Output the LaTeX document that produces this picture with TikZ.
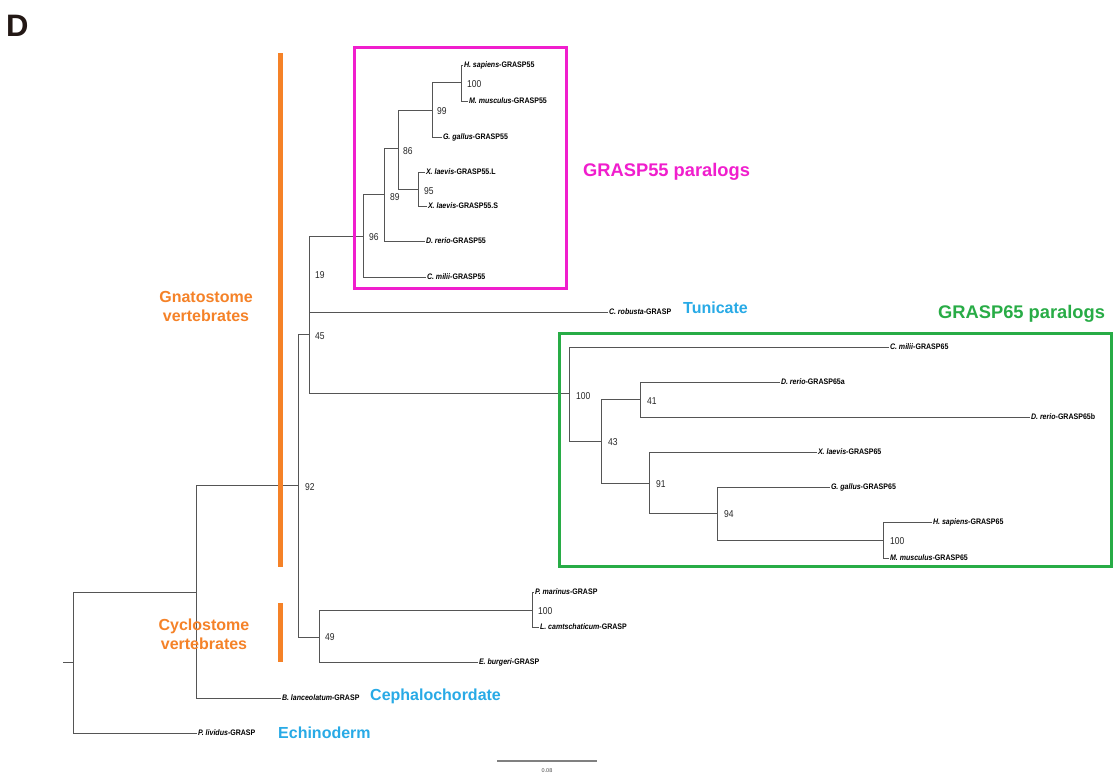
\documentclass[tikz,border=0pt]{standalone}
\usepackage{fontspec}
\setmainfont{Liberation Sans}
\usepackage{graphicx}
\definecolor{treegray}{RGB}{85,85,85}
\definecolor{pinkbox}{RGB}{240,30,205}
\definecolor{greenbox}{RGB}{40,172,70}
\definecolor{orangebar}{RGB}{245,130,40}
\definecolor{bluelab}{RGB}{40,170,230}
\definecolor{darkD}{RGB}{35,24,21}
\newcommand\lf[2]{\scalebox{0.88}[1]{\textit{#1}-#2}}
\newcommand\bt[1]{\scalebox{0.85}[1]{#1}}
\tikzset{
  br/.style={draw=treegray, line width=0.9pt},
  leaf/.style={anchor=west, inner sep=0.8pt, font=\fontsize{8}{9}\selectfont\bfseries, text=black},
  boot/.style={anchor=west, inner sep=0pt, font=\fontsize{10}{12}\selectfont, text=black!85},
  cat/.style={anchor=west, inner sep=0pt, font=\fontsize{16}{19}\selectfont\bfseries},
  grp/.style={align=center, inner sep=0pt, text=orangebar, font=\fontsize{16}{19}\selectfont\bfseries},
  frame/.style={line width=3pt},
  bar/.style={fill=orangebar, draw=none}
}
\begin{document}
\begin{tikzpicture}[x=1pt,y=-1pt]
\useasboundingbox (0,0) rectangle (1114,774);
\fill[white] (0,0) rectangle (1114,774);

% panel letter
\node[anchor=west, inner sep=0pt, text=darkD, font=\fontsize{31}{34}\selectfont\bfseries] (panel) at (6,26) {D};

% internal nodes
\coordinate (A) at (461,82);
\coordinate (B) at (432,110);
\coordinate (C) at (398,148);
\coordinate (D) at (418,189);
\coordinate (E) at (384,194);
\coordinate (F) at (363,236);
\coordinate (G) at (309,274);
\coordinate (H) at (309,334);
\coordinate (I) at (298,485);
\coordinate (J) at (569,393);
\coordinate (K) at (601,441);
\coordinate (L) at (640,399);
\coordinate (M) at (649,483);
\coordinate (N) at (717,513);
\coordinate (O) at (883,540);
\coordinate (P) at (319,637);
\coordinate (Q) at (532,610);
\coordinate (R) at (196,592);
\coordinate (S) at (73,662);
\coordinate (rootstem) at (63,662);

% leaves
\node[leaf] (hs55) at (463,65) {\lf{H. sapiens}{GRASP55}};
\node[leaf] (mm55) at (468,101) {\lf{M. musculus}{GRASP55}};
\node[leaf] (gg55) at (442,137) {\lf{G. gallus}{GRASP55}};
\node[leaf] (xll) at (425,172) {\lf{X. laevis}{GRASP55.L}};
\node[leaf] (xls) at (427,206) {\lf{X. laevis}{GRASP55.S}};
\node[leaf] (dr55) at (425,241) {\lf{D. rerio}{GRASP55}};
\node[leaf] (cm55) at (426,277) {\lf{C. milii}{GRASP55}};
\node[leaf] (cr) at (608,312) {\lf{C. robusta}{GRASP}};
\node[leaf] (cm65) at (889,347) {\lf{C. milii}{GRASP65}};
\node[leaf] (dr65a) at (780,382) {\lf{D. rerio}{GRASP65a}};
\node[leaf] (dr65b) at (1030,417) {\lf{D. rerio}{GRASP65b}};
\node[leaf] (xl65) at (817,452) {\lf{X. laevis}{GRASP65}};
\node[leaf] (gg65) at (830,487) {\lf{G. gallus}{GRASP65}};
\node[leaf] (hs65) at (932,522) {\lf{H. sapiens}{GRASP65}};
\node[leaf] (mm65) at (889,558) {\lf{M. musculus}{GRASP65}};
\node[leaf] (pm) at (534,592) {\lf{P. marinus}{GRASP}};
\node[leaf] (lc) at (539,627) {\lf{L. camtschaticum}{GRASP}};
\node[leaf] (eb) at (478,662) {\lf{E. burgeri}{GRASP}};
\node[leaf] (bl) at (281,698) {\lf{B. lanceolatum}{GRASP}};
\node[leaf] (pl) at (197,733) {\lf{P. lividus}{GRASP}};

% branches
\draw[br] (A) |- (hs55.west);
\draw[br] (A) |- (mm55.west);
\draw[br] (B) |- (A);
\draw[br] (B) |- (gg55.west);
\draw[br] (C) |- (B);
\draw[br] (C) |- (D);
\draw[br] (D) |- (xll.west);
\draw[br] (D) |- (xls.west);
\draw[br] (E) |- (C);
\draw[br] (E) |- (dr55.west);
\draw[br] (F) |- (E);
\draw[br] (F) |- (cm55.west);
\draw[br] (G) |- (F);
\draw[br] (G) |- (cr.west);
\draw[br] (H) |- (G);
\draw[br] (H) |- (J);
\draw[br] (J) |- (cm65.west);
\draw[br] (J) |- (K);
\draw[br] (K) |- (L);
\draw[br] (K) |- (M);
\draw[br] (L) |- (dr65a.west);
\draw[br] (L) |- (dr65b.west);
\draw[br] (M) |- (xl65.west);
\draw[br] (M) |- (N);
\draw[br] (N) |- (gg65.west);
\draw[br] (N) |- (O);
\draw[br] (O) |- (hs65.west);
\draw[br] (O) |- (mm65.west);
\draw[br] (I) |- (H);
\draw[br] (I) |- (P);
\draw[br] (P) |- (Q);
\draw[br] (P) |- (eb.west);
\draw[br] (Q) |- (pm.west);
\draw[br] (Q) |- (lc.west);
\draw[br] (R) |- (I);
\draw[br] (R) |- (bl.west);
\draw[br] (S) |- (R);
\draw[br] (S) |- (pl.west);
\draw[br] (rootstem) -- (S);

% bootstrap values
\node[boot] (bA) at (467,84) {\bt{100}};
\node[boot] (bB) at (437,111) {\bt{99}};
\node[boot] (bC) at (403,151) {\bt{86}};
\node[boot] (bD) at (424,191) {\bt{95}};
\node[boot] (bE) at (390,197) {\bt{89}};
\node[boot] (bF) at (369,237) {\bt{96}};
\node[boot] (bG) at (315,275) {\bt{19}};
\node[boot] (bH) at (315,336) {\bt{45}};
\node[boot] (bI) at (305,487) {\bt{92}};
\node[boot] (bP) at (325,637) {\bt{49}};
\node[boot] (bQ) at (538,611) {\bt{100}};
\node[boot] (bJ) at (576,396) {\bt{100}};
\node[boot] (bL) at (647,401) {\bt{41}};
\node[boot] (bK) at (608,442) {\bt{43}};
\node[boot] (bM) at (656,484) {\bt{91}};
\node[boot] (bN) at (724,514) {\bt{94}};
\node[boot] (bO) at (890,541) {\bt{100}};

% boxes and bars
\draw[frame, draw=pinkbox] (354,47) rectangle (566,288);
\draw[frame, draw=greenbox] (559,333) rectangle (1111,566);
\fill[bar] (278,53) rectangle (283,567);
\fill[bar] (278,603) rectangle (283,662);

% group labels
\node[cat, text=pinkbox, font=\fontsize{18.3}{21}\selectfont\bfseries] (g55) at (583,172) {GRASP55 paralogs};
\node[cat, text=greenbox, font=\fontsize{18.3}{21}\selectfont\bfseries] (g65) at (938,314) {GRASP65 paralogs};
\node[cat, text=bluelab] (tun) at (683,308) {Tunicate};
\node[cat, text=bluelab] (ceph) at (370,696) {Cephalochordate};
\node[cat, text=bluelab] (echi) at (278,733) {Echinoderm};
\node[grp] (gnat) at (206,306.5) {Gnatostome\\vertebrates};
\node[grp] (cyc) at (204,634) {Cyclostome\\vertebrates};

% scale bar
\coordinate (sb1) at (497,761);
\coordinate (sb2) at (597,761);
\draw[draw=gray, line width=1.4pt] (sb1) -- (sb2);
\node[inner sep=0pt, font=\fontsize{5.5}{6}\selectfont, text=black!70] (sblab) at (547,771) {0.08};
\end{tikzpicture}
\end{document}
